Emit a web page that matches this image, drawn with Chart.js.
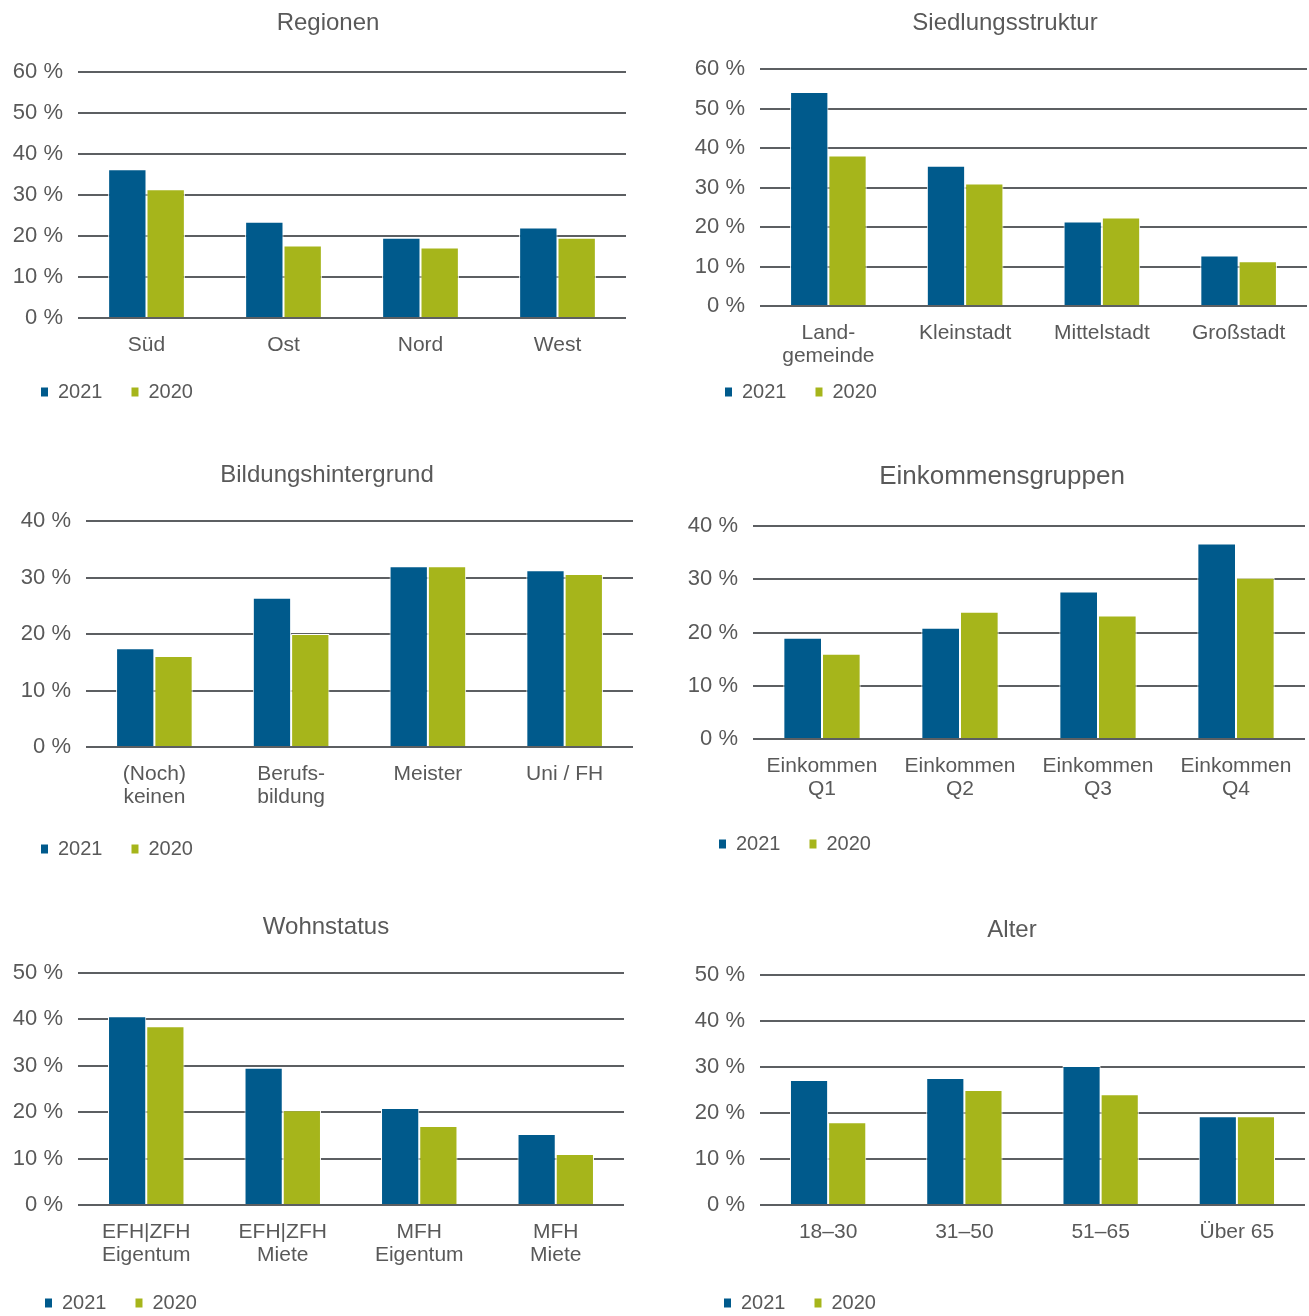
<!DOCTYPE html>
<html lang="de">
<head>
<meta charset="utf-8">
<title>Befragungsergebnisse 2021 / 2020</title>
<script src="https://cdn.jsdelivr.net/npm/chart.js@4.4.1/dist/chart.umd.min.js"></script>
<style>
  html, body { margin: 0; padding: 0; background: #fff; overflow: hidden; }
  .panel { position: absolute; }
</style>
</head>
<body>
<div class="panel" id="p1"><canvas id="c1"></canvas></div>
<div class="panel" id="p2"><canvas id="c2"></canvas></div>
<div class="panel" id="p3"><canvas id="c3"></canvas></div>
<div class="panel" id="p4"><canvas id="c4"></canvas></div>
<div class="panel" id="p5"><canvas id="c5"></canvas></div>
<div class="panel" id="p6"><canvas id="c6"></canvas></div>
<script>
// Anteile in Prozent, je Gruppe 2021 und 2020
var regionenLabels = ["Süd", "Ost", "Nord", "West"];
var regionen2021 = [36.3, 23.5, 19.6, 22.1];
var regionen2020 = [31.4, 17.7, 17.2, 19.6];

var siedlungLabels = [["Land-", "gemeinde"], "Kleinstadt", "Mittelstadt", "Großstadt"];
var siedlung2021 = [54.2, 35.5, 21.4, 12.8];
var siedlung2020 = [38.1, 31.0, 22.4, 11.3];

var bildungLabels = [["(Noch)", "keinen"], ["Berufs-", "bildung"], "Meister", "Uni / FH"];
var bildung2021 = [17.5, 26.4, 32.0, 31.3];
var bildung2020 = [16.1, 20.0, 32.0, 30.6];

var einkommenLabels = [["Einkommen", "Q1"], ["Einkommen", "Q2"], ["Einkommen", "Q3"], ["Einkommen", "Q4"]];
var einkommen2021 = [19.0, 20.9, 27.7, 36.7];
var einkommen2020 = [16.0, 23.9, 23.2, 30.3];

var wohnLabels = [["EFH|ZFH", "Eigentum"], ["EFH|ZFH", "Miete"], ["MFH", "Eigentum"], ["MFH", "Miete"]];
var wohn2021 = [40.7, 29.6, 20.9, 15.3];
var wohn2020 = [38.5, 20.4, 17.0, 11.0];

var alterLabels = ["18–30", "31–50", "51–65", "Über 65"];
var alter2021 = [27.2, 27.6, 30.2, 19.3];
var alter2020 = [18.0, 25.0, 24.1, 19.3];

var yearLabels = ["2021", "2020"];
var yMaxima = [60, 60, 40, 40, 50, 50];

var BLUE = "#005a8c";
var GREEN = "#a6b51b";
var TEXT = "#595959";
var GRID = "#5c5f62";
var FONT = "'Liberation Sans', Arial, sans-serif";
var PAD_L = 4;
var LEGEND_PAD = 29;
var LEGEND_H = 20 + LEGEND_PAD + 11;

// rückt Titel und Legende an feste Stellen, unabhängig von Achsenbreite und -höhe
var placeBoxes = {
    id: "placeBoxes",
    beforeDraw: function (chart, args, opts) {
        var t = chart.titleBlock;
        if (t && opts.titleCx != null) {
            var dx = opts.titleCx - (t.left + t.right) / 2;
            t.left += dx;
            t.right += dx;
        }
        var lg = chart.legend;
        if (lg && opts.legendTop != null) {
            var dy = opts.legendTop - lg.top;
            lg.top += dy;
            lg.bottom += dy;
        }
        if (lg && opts.legendLeft != null) {
            var lx = opts.legendLeft - lg.left;
            lg.left += lx;
            lg.right += lx;
        }
    }
};

function drawPanel(n, geo, title, labels, a, b, yMax) {
    var panel = document.getElementById("p" + n);
    panel.style.left = geo.left + "px";
    panel.style.top = geo.top + "px";

    var top = geo.top;
    var chartTop = geo.chartTop - top;
    var chartBottom = geo.chartBottom - top;
    var legendCy = geo.legendCy - top;
    var titleCy = geo.titleCy - top;
    var yAxisW = geo.chartLeft - geo.left - PAD_L;
    var padB = Math.max(0, legendCy + 24 - chartBottom - geo.xAxisH - LEGEND_H);
    var h = chartBottom + geo.xAxisH + LEGEND_H + padB;
    var half = geo.titleSize * 0.6;

    var canvas = document.getElementById("c" + n);
    canvas.width = geo.right - geo.left + 2;
    canvas.height = h;
    canvas.style.width = canvas.width + "px";
    canvas.style.height = h + "px";

    new Chart(canvas.getContext("2d"), {
        type: "bar",
        data: {
            labels: labels,
            datasets: [{
                label: yearLabels[0],
                data: a,
                backgroundColor: BLUE,
                borderColor: "#ffffff",
                borderWidth: 1
            }, {
                label: yearLabels[1],
                data: b,
                backgroundColor: GREEN,
                borderColor: "#ffffff",
                borderWidth: 1
            }]
        },
        plugins: [placeBoxes],
        options: {
            responsive: false,
            animation: false,
            layout: { padding: { left: PAD_L, right: 2, top: 0, bottom: padB } },
            datasets: { bar: { categoryPercentage: 0.56, barPercentage: 1.0 } },
            plugins: {
                tooltip: { enabled: false },
                placeBoxes: {
                    titleCx: geo.titleCx - geo.left,
                    legendTop: legendCy - LEGEND_PAD - 9,
                    legendLeft: geo.legendX - geo.left - LEGEND_PAD
                },
                title: {
                    display: true,
                    text: title,
                    color: TEXT,
                    font: { family: FONT, size: geo.titleSize, weight: "normal", lineHeight: 1.2 },
                    padding: { top: titleCy - half, bottom: chartTop - titleCy - half }
                },
                legend: {
                    position: "bottom",
                    align: "start",
                    labels: {
                        color: TEXT,
                        font: { family: FONT, size: 20 },
                        boxWidth: 7,
                        boxHeight: 9,
                        padding: LEGEND_PAD,
                        generateLabels: function (chart) {
                            return Chart.defaults.plugins.legend.labels.generateLabels(chart).map(function (l) {
                                l.lineWidth = 0;
                                l.strokeStyle = l.fillStyle;
                                return l;
                            });
                        }
                    }
                }
            },
            scales: {
                x: {
                    grid: { display: false, drawTicks: false },
                    border: { display: false },
                    ticks: {
                        color: TEXT,
                        font: { family: FONT, size: 21, lineHeight: 1.13 },
                        padding: 15,
                        maxRotation: 0,
                        autoSkip: false
                    },
                    afterFit: function (s) { s.height = geo.xAxisH; }
                },
                y: {
                    min: 0,
                    max: yMax,
                    grid: { color: GRID, lineWidth: 2, drawTicks: false },
                    border: { display: false },
                    ticks: {
                        stepSize: 10,
                        color: TEXT,
                        font: { family: FONT, size: 22 },
                        padding: 15,
                        callback: function (v) { return v + " %"; }
                    },
                    afterFit: function (s) { s.width = yAxisW; }
                }
            }
        }
    });
}

// Lage der sechs Diagramme in Seitenkoordinaten
drawPanel(1, { left: 0, top: 0, chartLeft: 78, right: 626, xAxisH: 40, titleSize: 24, titleCx: 328, titleCy: 23, chartTop: 72, chartBottom: 317, legendX: 41, legendCy: 391 },
    "Regionen", regionenLabels, regionen2021, regionen2020, yMaxima[0]);
drawPanel(2, { left: 650, top: 0, chartLeft: 760, right: 1307, xAxisH: 66, titleSize: 24, titleCx: 1005, titleCy: 23, chartTop: 69, chartBottom: 305, legendX: 725, legendCy: 391 },
    "Siedlungsstruktur", siedlungLabels, siedlung2021, siedlung2020, yMaxima[1]);
drawPanel(3, { left: 0, top: 450, chartLeft: 86, right: 633, xAxisH: 66, titleSize: 24, titleCx: 327, titleCy: 475, chartTop: 521, chartBottom: 746, legendX: 41, legendCy: 848 },
    "Bildungshintergrund", bildungLabels, bildung2021, bildung2020, yMaxima[2]);
drawPanel(4, { left: 650, top: 450, chartLeft: 753, right: 1305, xAxisH: 66, titleSize: 26, titleCx: 1002, titleCy: 477, chartTop: 526, chartBottom: 738, legendX: 719, legendCy: 843 },
    "Einkommensgruppen", einkommenLabels, einkommen2021, einkommen2020, yMaxima[3]);
drawPanel(5, { left: 0, top: 900, chartLeft: 78, right: 624, xAxisH: 66, titleSize: 24, titleCx: 326, titleCy: 927, chartTop: 973, chartBottom: 1204, legendX: 45, legendCy: 1302 },
    "Wohnstatus", wohnLabels, wohn2021, wohn2020, yMaxima[4]);
drawPanel(6, { left: 650, top: 900, chartLeft: 760, right: 1305, xAxisH: 40, titleSize: 24, titleCx: 1012, titleCy: 930, chartTop: 975, chartBottom: 1204, legendX: 724, legendCy: 1302 },
    "Alter", alterLabels, alter2021, alter2020, yMaxima[5]);
</script>
</body>
</html>
